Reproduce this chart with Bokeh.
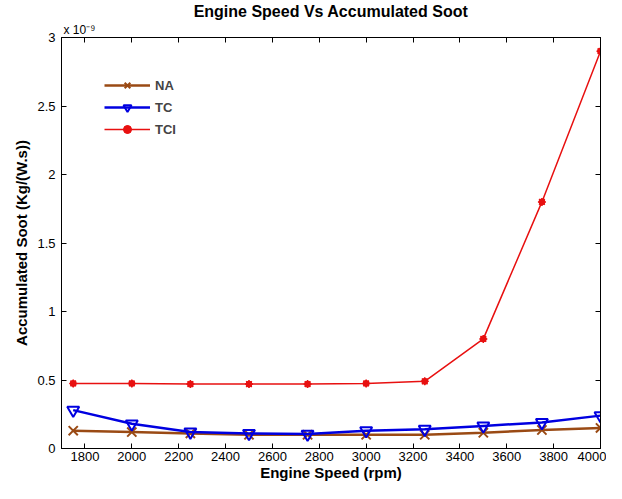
from bokeh.plotting import figure
from bokeh.models import Range1d, FixedTicker, LinearAxis, Legend, Title
from bokeh.embed import file_html
from bokeh.resources import INLINE

# data (values in units of 1e-9 Kg/(W.s))
engine_speed = [1750, 2000, 2250, 2500, 2750, 3000, 3250, 3500, 3750, 4000]
soot_na = [0.13, 0.12, 0.11, 0.10, 0.10, 0.10, 0.10, 0.115, 0.135, 0.15]
soot_tc = [0.28, 0.18, 0.12, 0.11, 0.105, 0.13, 0.14, 0.165, 0.19, 0.24]
soot_tci = [0.475, 0.475, 0.47, 0.47, 0.47, 0.475, 0.49, 0.80, 1.80, 2.90]

xticks = [1800, 2000, 2200, 2400, 2600, 2800, 3000, 3200, 3400, 3600, 3800, 4000]
yticks = [0, 0.5, 1, 1.5, 2, 2.5, 3]
ytick_labels = ["0", "0.5", "1", "1.5", "2", "2.5", "3"]

FONT = "Liberation Sans"
c_na = "#9A4A14"
c_tc = "#0000E0"
c_tci = "#E81010"

p = figure(width=596, height=483, output_backend="svg", toolbar_location=None,
           x_range=Range1d(1700, 4000), y_range=Range1d(0, 3),
           min_border_left=0, min_border_right=6, min_border_top=0, min_border_bottom=0)
p.margin = (0, 0, 0, 10)
p.background_fill_color = "white"
p.border_fill_color = "white"
p.grid.visible = False
p.outline_line_color = "black"
p.outline_line_width = 1

for ax in (p.xaxis[0], p.yaxis[0]):
    ax.major_tick_in = 5
    ax.major_tick_out = 0
    ax.minor_tick_line_color = None
    ax.axis_line_color = "black"
    ax.major_tick_line_color = "black"
    ax.major_label_text_font = FONT
    ax.major_label_text_font_size = "13px"
    ax.major_label_text_color = "black"
    ax.axis_label_text_font = FONT
    ax.axis_label_text_font_style = "bold"
    ax.axis_label_text_color = "black"

p.xaxis.ticker = FixedTicker(ticks=xticks)
p.xaxis.axis_label = "Engine Speed (rpm)"
p.xaxis.axis_label_text_font_size = "15px"
p.xaxis.major_label_standoff = 3
p.xaxis.axis_label_standoff = 0

p.yaxis.ticker = FixedTicker(ticks=yticks)
p.yaxis.major_label_overrides = {t: s for t, s in zip(yticks, ytick_labels)}
p.yaxis.axis_label = "Accumulated Soot (Kg/(W.s))"
p.yaxis.axis_label_text_font_size = "15px"
p.yaxis.major_label_standoff = 6
p.yaxis.axis_label_standoff = 4

# box ticks on top and right
top = LinearAxis(ticker=FixedTicker(ticks=xticks), major_tick_in=5, major_tick_out=0,
                 minor_tick_line_color=None, major_label_text_font_size="0px",
                 major_label_standoff=0, major_label_text_alpha=0, axis_line_color="black")
right = LinearAxis(ticker=FixedTicker(ticks=yticks), major_tick_in=5, major_tick_out=0,
                   minor_tick_line_color=None, major_label_text_font_size="0px",
                   major_label_standoff=0, major_label_text_alpha=0, axis_line_color="black")
p.add_layout(top, "above")
p.add_layout(right, "right")

# multiplier (nearest the frame) and main title
p.add_layout(Title(text="x 10\u207b\u2079", align="left", offset=2, standoff=2,
                   text_font=FONT, text_font_size="12px", text_font_style="normal",
                   text_color="black"), "above")
p.add_layout(Title(text="Engine Speed Vs Accumulated Soot", align="center", standoff=0,
                   text_font=FONT, text_font_size="16px", text_font_style="bold",
                   text_color="black"), "above")

r_na_l = p.line(engine_speed, soot_na, line_color=c_na, line_width=2.5)
r_na_m = p.scatter(engine_speed, soot_na, marker="x", size=13, line_color=c_na, line_width=2)
r_tc_l = p.line(engine_speed, soot_tc, line_color=c_tc, line_width=2.5)
r_tc_m = p.scatter(engine_speed, soot_tc, marker="inverted_triangle", size=12,
                   line_color=c_tc, fill_color="white", fill_alpha=0, line_width=2)
r_tci_l = p.line(engine_speed, soot_tci, line_color=c_tci, line_width=1.5)
r_tci_m = p.scatter(engine_speed, soot_tci, marker="circle", size=6,
                    line_color=c_tci, fill_color=c_tci)
r_tci_s = p.scatter(engine_speed, soot_tci, marker="asterisk", size=8,
                    line_color=c_tci, line_width=1.5)

legend = Legend(items=[("NA", [r_na_l, r_na_m]),
                       ("TC", [r_tc_l, r_tc_m]),
                       ("TCI", [r_tci_l, r_tci_m, r_tci_s])],
                location=(43, 309))
legend.margin = 0
legend.padding = 8
legend.spacing = 2
legend.label_height = 20
legend.glyph_height = 20
legend.glyph_width = 46
legend.label_standoff = 5
legend.border_line_color = None
legend.background_fill_color = "white"
legend.background_fill_alpha = 1
legend.label_text_font = FONT
legend.label_text_font_style = "bold"
legend.label_text_font_size = "13px"
p.add_layout(legend, "center")

open("out.html", "w").write(file_html(p, INLINE))
